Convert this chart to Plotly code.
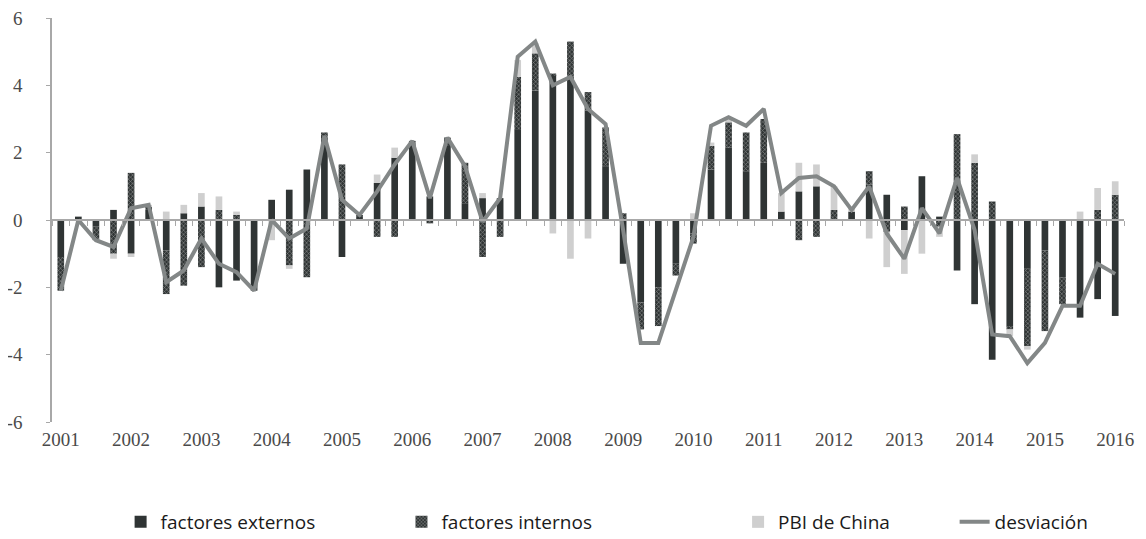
import plotly.graph_objects as go

# quarterly series, 2001-T1 .. 2016-T1
years = [str(y) for y in range(2001, 2017)]
quarters = [f"{y}-T{q}" for y in range(2001, 2017) for q in range(1, 5)][:61]

externos = [-1.1, 0.1, -0.2, 0.3, -1.0, 0.3, -0.9, 0.2, 0.4, -2.0, -1.8, -2.1,
            0.6, 0.9, 1.5, 2.3, -1.1, 0.1, 1.1, 1.85, 2.2, 0.7, 2.2, 0.5,
            0.65, 0.65, 2.7, 3.85, 4.3, 4.25, 3.25, 1.6, -1.3, -2.45, -2.0, -1.3,
            -0.4, 1.5, 2.15, 1.45, 1.7, 0.25, 0.85, 1.0, 0.0, 0.25, 1.05, 0.75,
            -0.3, 1.3, 0.1, -1.5, -2.5, -4.15, -3.15, -1.45, -0.9, -1.7, -2.9, -2.35,
            -2.85]
internos = [-1.0, 0.0, -0.4, -1.0, 1.4, 0.1, -1.3, -1.95, -1.4, 0.3, 0.15, 0.0,
            0.0, -1.35, -1.7, 0.3, 1.65, 0.05, -0.5, -0.5, 0.15, -0.1, 0.25, 1.2,
            -1.1, -0.5, 1.55, 1.1, 0.05, 1.05, 0.55, 1.15, 0.2, -0.8, -1.15, -0.35,
            -0.3, 0.7, 0.75, 1.15, 1.3, 0.0, -0.6, -0.5, 0.3, 0.0, 0.4, -0.35,
            0.4, 0.0, -0.2, 2.55, 1.7, 0.55, -0.1, -2.3, -2.4, -0.8, 0.0, 0.3,
            0.75]
china = [0.0, 0.0, 0.0, -0.15, -0.1, 0.05, 0.25, 0.25, 0.4, 0.4, 0.1, 0.0,
         -0.6, -0.1, 0.0, 0.0, 0.0, 0.0, 0.25, 0.3, 0.0, 0.0, 0.0, 0.0,
         0.15, 0.0, 0.5, 0.3, -0.4, -1.15, -0.55, 0.0, 0.0, 0.0, 0.0, 0.0,
         0.2, 0.1, 0.1, 0.0, 0.0, 0.55, 0.85, 0.65, 0.7, 0.1, -0.55, -1.05,
         -1.3, -1.0, -0.3, 0.0, 0.25, 0.0, -0.2, -0.1, 0.0, 0.0, 0.25, 0.65,
         0.4]
desviacion = [-2.1, 0.0, -0.6, -0.8, 0.35, 0.45, -1.85, -1.5, -0.55, -1.3, -1.55, -2.1,
              0.0, -0.55, -0.25, 2.5, 0.6, 0.15, 0.85, 1.65, 2.35, 0.65, 2.45, 1.6,
              -0.05, 0.65, 4.85, 5.3, 4.0, 4.25, 3.3, 2.85, -0.3, -3.65, -3.65, -2.05,
              -0.5, 2.8, 3.05, 2.8, 3.3, 0.8, 1.25, 1.3, 1.0, 0.3, 1.0, -0.4,
              -1.15, 0.35, -0.4, 1.25, -0.3, -3.4, -3.45, -4.25, -3.65, -2.55, -2.55, -1.3,
              -1.6]

y_ticks = [-6, -4, -2, 0, 2, 4, 6]

DARK = '#2f3434'
LIGHT = '#cfcfcf'
LINE = '#838787'
AXIS = '#a8a8a8'

fig = go.Figure()

fig.add_trace(go.Bar(
    name='factores externos', x=quarters, y=externos,
    marker=dict(color=DARK, line=dict(width=0)),
    width=0.38, legend='legend'
))
fig.add_trace(go.Bar(
    name='factores internos', x=quarters, y=internos,
    marker=dict(color=DARK, line=dict(width=0),
                pattern=dict(shape='x', fgcolor='#e6e6e6', bgcolor=DARK,
                             size=3, solidity=0.35)),
    width=0.38, legend='legend2'
))
fig.add_trace(go.Bar(
    name='PBI de China', x=quarters, y=china,
    marker=dict(color=LIGHT, line=dict(width=0)),
    width=0.38, legend='legend3'
))
fig.add_trace(go.Scatter(
    name='desviación', x=quarters, y=desviacion,
    mode='lines', line=dict(color=LINE, width=4),
    xaxis='x2', legend='legend4'
))

serif = dict(family='Liberation Serif', size=19, color='#4a4a4a')
legend_font = dict(family='Open Sans', size=19, color='#1a1a1a')


def legend_at(x):
    return dict(orientation='h', x=x, xanchor='left', y=-0.2475, yanchor='middle',
                font=legend_font, bgcolor='rgba(0,0,0,0)')


# page body has an 8px margin, so the figure is sized to fit the window
fig.update_layout(
    width=1138, height=531,
    margin=dict(l=44, r=22, t=10, b=117, autoexpand=False),
    plot_bgcolor='white', paper_bgcolor='white',
    barmode='relative',
    showlegend=True,
    legend=legend_at(0.064),
    legend2=legend_at(0.326),
    legend3=legend_at(0.640),
    legend4=legend_at(0.842),
    xaxis=dict(
        type='category', range=[-0.5, 60.5], automargin=False,
        tickmode='array', tickvals=quarters[::4], ticktext=years,
        showline=False, ticks='', showgrid=False, zeroline=False,
        tickfont=serif, ticklabelstandoff=4, ticklabeloverflow='allow'
    ),
    xaxis2=dict(
        type='category', overlaying='x', anchor='free', position=0.5,
        range=[-0.5, 60.5], showline=True, linecolor=AXIS, linewidth=1.5,
        tickmode='linear', tick0=0, dtick=1, tickson='boundaries',
        ticks='outside', ticklen=5, tickcolor=AXIS, automargin=False,
        showticklabels=False, showgrid=False, zeroline=False
    ),
    yaxis=dict(
        range=[-6, 6], tickvals=y_ticks, ticktext=[str(v) for v in y_ticks],
        showline=True, linecolor=AXIS, linewidth=1.5, automargin=False,
        ticks='outside', ticklen=4, tickcolor=AXIS,
        showgrid=False, zeroline=False, tickfont=serif,
        ticklabelstandoff=20, ticklabeloverflow='allow'
    )
)

fig.write_html("out.html")
